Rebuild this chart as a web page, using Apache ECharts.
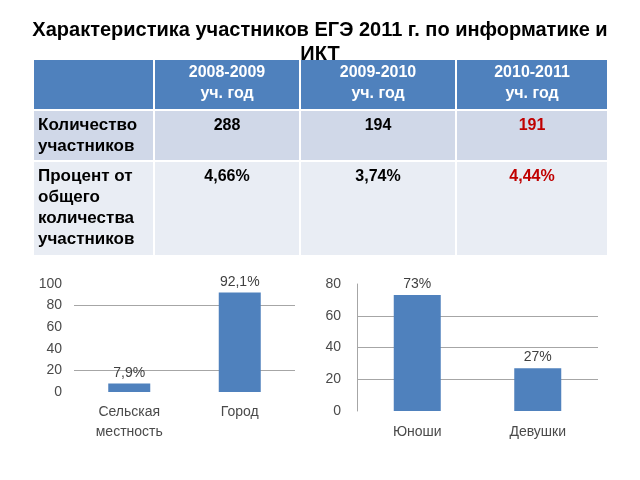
<!DOCTYPE html>
<html>
<head>
<meta charset="utf-8">
<script src="https://cdn.jsdelivr.net/npm/echarts@6/dist/echarts.min.js"></script>
<style>html,body{margin:0;padding:0;background:#fff;}#c{width:640px;height:480px;}</style>
</head>
<body>
<div id="c"></div>
<script>
const titleText = 'Характеристика участников ЕГЭ 2011 г. по информатике и\nИКТ';
const tableHeader = ['2008-2009\nуч. год', '2009-2010\nуч. год', '2010-2011\nуч. год'];
const rowLabels = ['Количество\nучастников', 'Процент от\nобщего\nколичества\nучастников'];
const participants = ['288', '194', '191'];
const percentages = ['4,66%', '3,74%', '4,44%'];
const locationCats = ['Сельская\nместность', 'Город'];
const locationValues = [7.9, 92.1];
const genderCats = ['Юноши', 'Девушки'];
const genderValues = [73, 27];

const FONT = 'Liberation Sans, Arial, sans-serif';
const colX = [33, 154, 300, 456, 608];
const rowY = [59, 110, 161, 256];
const rowFill = ['#4F81BD', '#D0D8E8', '#E9EDF4'];

const graphics = [{
  type: 'text', z: 5, x: 320, y: 18,
  style: { text: titleText, fill: '#000', font: 'bold 20px ' + FONT, lineHeight: 24,
    align: 'center', verticalAlign: 'top' }
}];
const rows = [[''].concat(tableHeader), [rowLabels[0]].concat(participants), [rowLabels[1]].concat(percentages)];
rows.forEach((row, r) => {
  row.forEach((txt, c) => {
    const x0 = colX[c], x1 = colX[c + 1], y0 = rowY[r], y1 = rowY[r + 1];
    graphics.push({
      type: 'rect', z: 10,
      shape: { x: x0 + 1, y: y0 + 1, width: x1 - x0 - 2, height: y1 - y0 - 2 },
      style: { fill: rowFill[r] }
    });
    if (!txt) return;
    const isHeader = r === 0;
    const isLabel = c === 0;
    let color = '#000';
    if (isHeader) color = '#fff';
    else if (c === 3) color = '#C00000';
    graphics.push({
      type: 'text', z: 11,
      x: isLabel ? x0 + 5 : (x0 + x1) / 2,
      y: isHeader ? y0 + 3 : y0 + 5,
      style: {
        text: txt, fill: color,
        font: 'bold ' + (isLabel ? '17px ' : '16px ') + FONT,
        lineHeight: 21,
        align: isLabel ? 'left' : 'center',
        verticalAlign: 'top'
      }
    });
  });
});

const pct = v => String(v).replace('.', ',') + '%';
const axisLabelStyle = { color: '#4a4a4a', fontSize: 14, fontFamily: FONT };

const option = {
  backgroundColor: '#fff',
  animation: false,
  graphic: graphics,
  grid: [
    { left: 74, right: 345, top: 284, bottom: 88 },
    { left: 357, right: 42, top: 284, bottom: 69 }
  ],
  xAxis: [
    { type: 'category', gridIndex: 0, data: locationCats,
      axisLine: { show: false }, axisTick: { show: false },
      axisLabel: Object.assign({ margin: 10, lineHeight: 20 }, axisLabelStyle) },
    { type: 'category', gridIndex: 1, data: genderCats,
      axisLine: { show: false }, axisTick: { show: false },
      axisLabel: Object.assign({ margin: 11, lineHeight: 20 }, axisLabelStyle) }
  ],
  yAxis: [
    { type: 'value', gridIndex: 0, min: 0, max: 100, interval: 20,
      axisLine: { show: false }, axisTick: { show: false }, splitLine: { show: false },
      axisLabel: Object.assign({ margin: 12 }, axisLabelStyle) },
    { type: 'value', gridIndex: 1, min: 0, max: 80, interval: 20,
      axisLine: { show: true, lineStyle: { color: '#A6A6A6', width: 1 } },
      axisTick: { show: false }, splitLine: { show: false },
      axisLabel: Object.assign({ margin: 16 }, axisLabelStyle) }
  ],
  series: [
    { type: 'bar', xAxisIndex: 0, yAxisIndex: 0, data: locationValues, barWidth: 42,
      itemStyle: { color: '#4F81BD' },
      label: { show: true, position: 'top', distance: 3, formatter: p => pct(p.value),
        color: '#404040', fontSize: 14, fontFamily: FONT },
      markLine: { silent: true, symbol: 'none', label: { show: false }, z: 1,
        lineStyle: { color: '#A6A6A6', type: 'solid', width: 1 },
        data: [{ yAxis: 80 }, { yAxis: 20 }] } },
    { type: 'bar', xAxisIndex: 1, yAxisIndex: 1, data: genderValues, barWidth: 47,
      itemStyle: { color: '#4F81BD' },
      label: { show: true, position: 'top', distance: 4, formatter: p => pct(p.value),
        color: '#404040', fontSize: 14, fontFamily: FONT },
      markLine: { silent: true, symbol: 'none', label: { show: false }, z: 1,
        lineStyle: { color: '#A6A6A6', type: 'solid', width: 1 },
        data: [{ yAxis: 60 }, { yAxis: 40 }, { yAxis: 20 }] } }
  ]
};

const chart = echarts.init(document.getElementById('c'), null, { renderer: 'canvas' });
chart.setOption(option);
</script>
</body>
</html>
